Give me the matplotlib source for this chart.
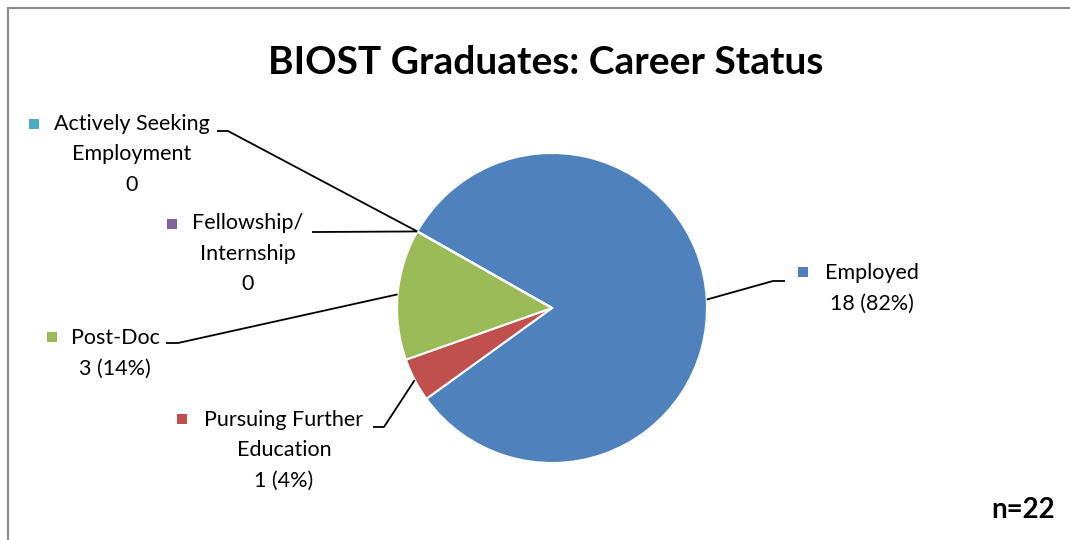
import matplotlib
matplotlib.use("Agg")
import matplotlib.pyplot as plt
from matplotlib.patches import Rectangle
import numpy as np

# ---- data ----
categories = ["Employed", "Pursuing Further Education", "Post-Doc",
              "Fellowship/ Internship", "Actively Seeking Employment"]
counts = [18, 1, 3, 0, 0]
value_labels = ["18 (82%)", "1 (4%)", "3 (14%)", "0", "0"]
label_lines = [["Employed"], ["Pursuing Further", "Education"], ["Post-Doc"],
               ["Fellowship/", "Internship"], ["Actively Seeking", "Employment"]]
colors = ["#4F81BD", "#C0504D", "#9BBB59", "#8064A2", "#4BACC6"]
title = "BIOST Graduates: Career Status"
n_text = "n=22"

# ---- layout (pixel coordinates, y downward) ----
W, H = 1070, 540
def Y(p):
    return H - p

center = (552, 308)
radius = 155
startangle = 150.4
# text block centre x, first line y, key position, leader elbow points
text_cx = [872, 284, 115, 248, 132]
text_y0 = [273, 420, 338, 223, 124]
key_pos = [(803, 272), (182, 419), (52, 337), (172, 224), (34, 124)]
elbows = [[(773, 281), (785, 281)],
          [(384, 427), (373, 427)],
          [(178, 343), (166, 343)],
          [(318, 232), (312, 232)],
          [(228, 131), (217, 131)]]
line_h = 30.5

font = "Lato"
plt.rcParams["font.family"] = [font, "DejaVu Sans"]

fig = plt.figure(figsize=(W / 100, H / 100), dpi=100)
ax = fig.add_axes([0, 0, 1, 1])

# outer border
ax.add_patch(Rectangle((7.5, Y(560)), 1100, 552.5, fill=False,
                       edgecolor="#8c8c8c", linewidth=1.5))

wedges, _ = ax.pie(counts, colors=colors, startangle=startangle,
                   counterclock=False, center=(center[0], Y(center[1])),
                   radius=radius, frame=True,
                   wedgeprops=dict(edgecolor="white", linewidth=1.5))
ax.set_xlim(0, W)
ax.set_ylim(0, H)
ax.set_aspect("equal")
ax.axis("off")

for i, w in enumerate(wedges):
    mid = np.deg2rad((w.theta1 + w.theta2) / 2)
    ax_x = w.center[0] + w.r * np.cos(mid)
    ax_y = w.center[1] + w.r * np.sin(mid)
    xs = [ax_x] + [p[0] for p in elbows[i]]
    ys = [ax_y] + [Y(p[1]) for p in elbows[i]]
    ax.plot(xs, ys, color="black", linewidth=1.3, solid_capstyle="butt")
    lines = label_lines[i] + [value_labels[i]]
    for j, t in enumerate(lines):
        ax.text(text_cx[i], Y(text_y0[i] + j * line_h), t, ha="center",
                va="center", fontsize=15.5, color="black")
    kx, ky = key_pos[i]
    ax.add_patch(Rectangle((kx - 5, Y(ky) - 5), 10, 10,
                           facecolor=colors[i], edgecolor="none"))

ax.text(546, Y(62), title, ha="center", va="center", fontsize=28,
        fontweight="bold", color="black")
ax.text(1055, Y(510), n_text, ha="right", va="center", fontsize=20,
        fontweight="bold", color="black")

fig.savefig("out.png", dpi=100)
